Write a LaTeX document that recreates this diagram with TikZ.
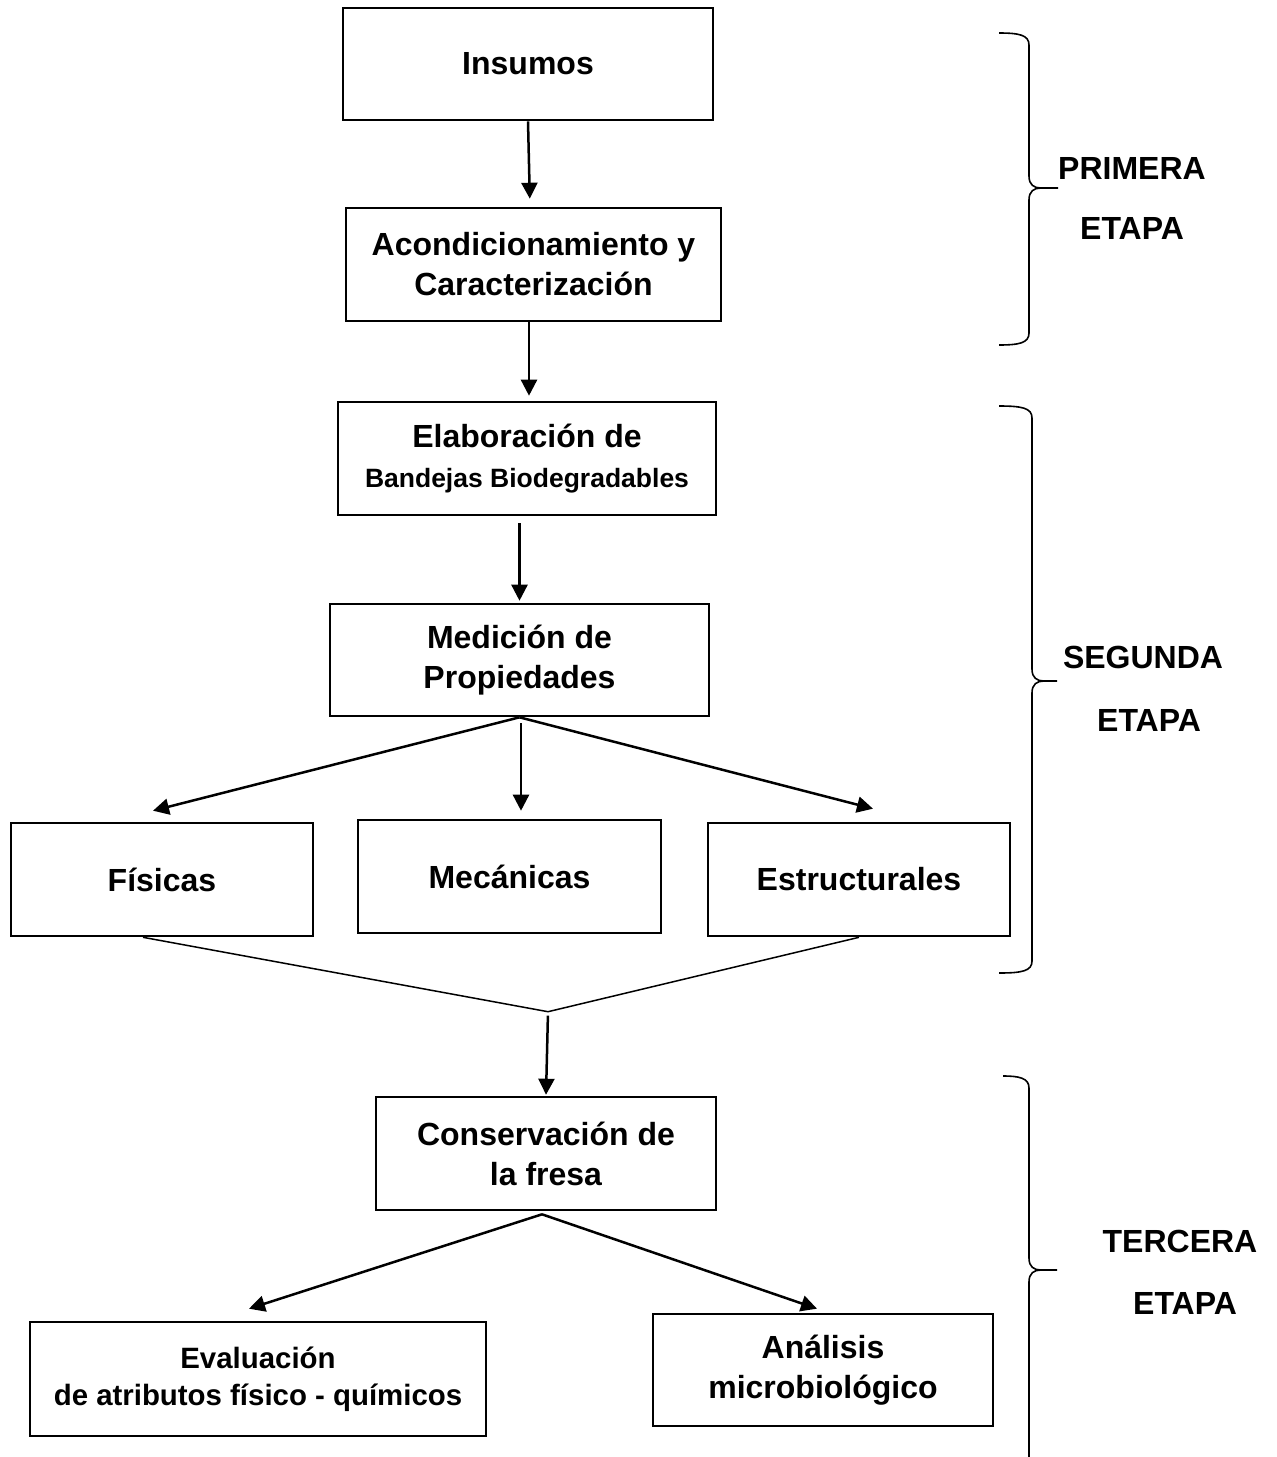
\documentclass[tikz,border=0pt]{standalone}
\usepackage{fontspec}
\setmainfont{Liberation Sans}
\usetikzlibrary{arrows.meta,calc}

\tikzset{
  stepbox/.style={draw, line width=2.6pt, inner sep=0pt, align=center,
    font=\bfseries\fontsize{32}{40}\selectfont},
  flowarrow/.style={line width=2.5pt, -{Triangle[length=16pt,width=16pt]}},
  mergeline/.style={line width=1.5pt},
  bracepath/.style={line width=1.6pt},
  stagelabel/.style={inner sep=0pt, font=\bfseries\fontsize{32}{40}\selectfont},
}

% curly brace: #1 end x, #2 spine x, #3 tip x, #4 top y, #5 tip y, #6 bottom y
\newcommand\etapabrace[6]{%
  \draw[bracepath] (#1,#4) .. controls (#2-10,#4) and (#2,#4+2) .. (#2,#4+12)
    -- (#2,#5-12) .. controls (#2,#5-3) and (#2+5,#5) .. (#2+12,#5) -- (#3,#5)
    -- (#2+12,#5) .. controls (#2+5,#5) and (#2,#5+3) .. (#2,#5+12)
    -- (#2,#6-12) .. controls (#2,#6-2) and (#2-10,#6) .. (#1,#6);}

\begin{document}
\begin{tikzpicture}[x=1pt, y=-1pt]
  \fill[white] (0,0) rectangle (1277,1457);
  \useasboundingbox (0,0) rectangle (1277,1457);

  % process boxes
  \node[stepbox, minimum width=370pt, minimum height=112pt] (ins) at (528,64) {Insumos};
  \node[stepbox, minimum width=375pt, minimum height=113pt] (acon) at (533.5,264.5)
    {Acondicionamiento y\\Caracterización};
  \node[stepbox, minimum width=378pt, minimum height=113pt] (elab) at (527,458.5)
    {Elaboración de\\{\fontsize{26.5}{36}\selectfont Bandejas Biodegradables}};
  \node[stepbox, minimum width=379pt, minimum height=112pt] (med) at (519.5,660)
    {Medición de\\Propiedades};
  \node[stepbox, minimum width=302pt, minimum height=113pt] (fis) at (162,879.5) {Físicas};
  \node[stepbox, minimum width=303pt, minimum height=113pt] (mec) at (509.5,876.5) {Mecánicas};
  \node[stepbox, minimum width=302pt, minimum height=113pt] (est) at (859,879.5) {Estructurales};
  \node[stepbox, minimum width=340pt, minimum height=113pt] (cons) at (546,1153.5)
    {Conservación de\\la fresa};
  \node[stepbox, minimum width=456pt, minimum height=114pt,
        font=\bfseries\fontsize{29.4}{37}\selectfont] (eval) at (258,1379)
    {Evaluación\\de atributos físico - químicos};
  \node[stepbox, minimum width=340pt, minimum height=112pt] (anal) at (823,1370)
    {Análisis\\microbiológico};

  % arrow end points
  \coordinate (aconin) at ($(ins.south |- acon.north)+(2,0)$);
  \coordinate (elabin) at ($(elab.north)+(2,0)$);
  \coordinate (fisin) at ($(fis.north)+(-9,-11)$);
  \coordinate (estin) at ($(est.north)+(14,-13)$);
  \coordinate (fisout) at ($(fis.south)+(-19,0)$);
  \coordinate (junc) at ($(cons.north)+(2,-84)$);
  \coordinate (evalin) at ($(eval.north)+(-9,-12)$);
  \coordinate (analin) at ($(anal.north)+(-6,-4)$);
  \coordinate (consout) at ($(cons.south)+(-4,3)$);

  % connectors
  \draw[flowarrow, shorten >=8pt] (ins.south) -- (aconin);
  \draw[flowarrow, shorten >=5pt] (acon.south -| elabin) -- (elabin);
  \draw[flowarrow, shorten <=7pt, shorten >=2pt] (elab.south -| med.north) -- (med.north);
  \draw[flowarrow] (med.south) -- (fisin);
  \draw[flowarrow, shorten <=6pt, shorten >=8pt] ($(med.south)+(1.5,0)$) -- ($(med.south |- mec.north)+(1.5,0)$);
  \draw[flowarrow] (med.south) -- (estin);
  \draw[mergeline] (fisout) -- (junc) -- (est.south);
  \draw[flowarrow, shorten <=4pt, shorten >=1pt] (junc) -- (cons.north);
  \draw[flowarrow] (consout) -- (evalin);
  \draw[flowarrow] (consout) -- (analin);

  % stage braces
  \etapabrace{999}{1029}{1058}{33}{188}{345}
  \etapabrace{999}{1032}{1057}{406}{681}{973}
  \begin{scope}
    \clip (0,0) rectangle (1277,1457);
    \etapabrace{1003}{1029}{1057}{1076}{1270}{1480}
  \end{scope}

  % stage labels
  \node[stagelabel] (s1a) at (1132,168) {PRIMERA};
  \node[stagelabel] (s1b) at (1132,228) {ETAPA};
  \node[stagelabel] (s2a) at (1143,657) {SEGUNDA};
  \node[stagelabel] (s2b) at (1149,720) {ETAPA};
  \node[stagelabel] (s3a) at (1180,1241) {TERCERA};
  \node[stagelabel] (s3b) at (1185,1303) {ETAPA};
\end{tikzpicture}
\end{document}
